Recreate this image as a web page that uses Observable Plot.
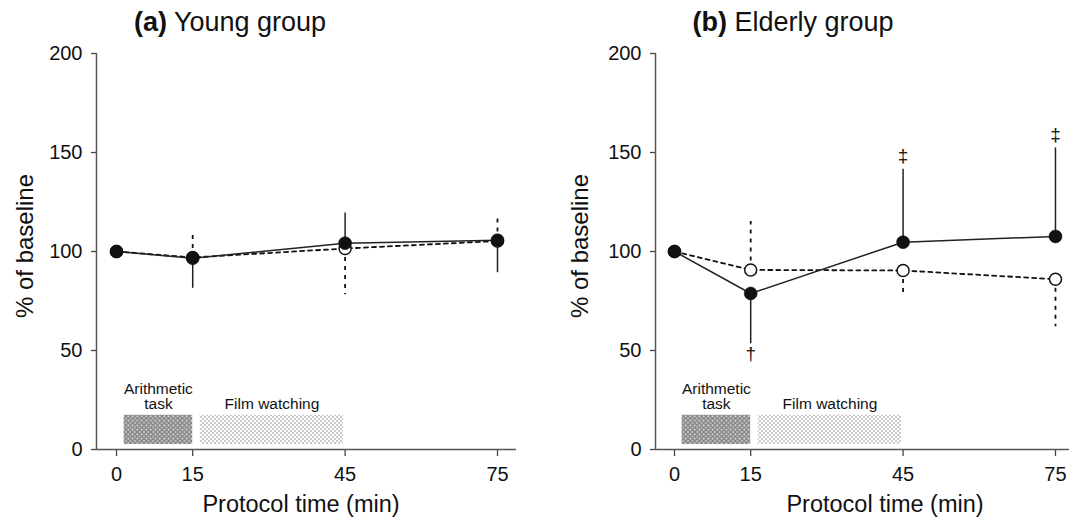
<!DOCTYPE html>
<html>
<head>
<meta charset="utf-8">
<script src="https://cdn.jsdelivr.net/npm/d3@7"></script>
<script src="https://cdn.jsdelivr.net/npm/@observablehq/plot@0.6"></script>
<style>
  html, body { margin: 0; padding: 0; background: #fff; }
  body { font-family: "Liberation Sans", Arial, Helvetica, sans-serif; color: #111; }
  #wrap { position: relative; width: 1070px; height: 526px; overflow: hidden; }
  .panel { position: absolute; top: 0; }
  .txt { position: absolute; white-space: nowrap; line-height: 1; transform: translate(-50%, -50%); }
  .ttl { font-size: 27px; }
  .xl { font-size: 23.5px; }
  .yl { font-size: 24px; transform: translate(-50%, -50%) rotate(-90deg); }
</style>
</head>
<body>
<div id="wrap"></div>
<script>
// ---- data ----
const times = [0, 15, 45, 75];
const xTicks = [0, 15, 45, 75];
const yTicks = [0, 50, 100, 150, 200];

// Young group
const youngActive = [100, 96.6, 104.2, 105.7];
const youngActiveEnd = [null, 81.4, 119.4, 89.3];
const youngControl = [100, 97, 101.5, 105.3];
const youngControlEnd = [null, 109.5, 78.2, 118.5];
const youngMarks = ["", "", "", ""];

// Elderly group
const elderlyActive = [100, 78.8, 104.7, 107.6];
const elderlyActiveEnd = [null, 53.4, 141.6, 152.3];
const elderlyControl = [100, 90.7, 90.4, 86];
const elderlyControlEnd = [null, 115.2, 77.7, 62];
const elderlyMarks = ["", "†", "‡", "‡"];

// Protocol phases
const phaseLabels = ["Arithmetic\ntask", "Film watching"];
const phaseStart = [1.5, 16.5];
const phaseEnd = [15, 44.7];
const phaseLow = [2.5, 2.5];
const phaseHigh = [17.3, 17.3];

const panelTitles = ["(a)", "(b)"];
const panelNames = ["Young group", "Elderly group"];
const xLabel = "Protocol time (min)";
const yLabel = "% of baseline";

// ---- drawing ----
function makePanel(cfg) {
  const rows = times.map((t, i) => ({
    t, a: cfg.active[i], ae: cfg.activeEnd[i], c: cfg.control[i], ce: cfg.controlEnd[i], m: cfg.marks[i]
  }));
  const errA = rows.filter(d => d.ae != null);
  const errC = rows.filter(d => d.ce != null);
  const phases = phaseLabels.map((label, i) => ({
    label, x1: phaseStart[i], x2: phaseEnd[i], xm: (phaseStart[i] + phaseEnd[i]) / 2, y1: phaseLow[i], y2: phaseHigh[i]
  }));
  const below = rows.filter(d => d.m && d.ae < d.a);
  const above = rows.filter(d => d.m && d.ae > d.a);
  const id = cfg.id;

  const svg = Plot.plot({
    width: cfg.width,
    height: 526,
    marginLeft: cfg.marginLeft,
    marginRight: cfg.marginRight,
    marginTop: 53,
    marginBottom: 77,
    x: { domain: [cfg.xMin, cfg.xMax] },
    y: { domain: [0, 200] },
    style: { fontFamily: "'Liberation Sans', Arial, Helvetica, sans-serif", color: "#111", background: "transparent", overflow: "visible" },
    marks: [
      Plot.rect([phases[0]], { x1: "x1", x2: "x2", y1: "y1", y2: "y2", fill: `url(#arith-${id})` }),
      Plot.rect([phases[1]], { x1: "x1", x2: "x2", y1: "y1", y2: "y2", fill: `url(#film-${id})` }),
      Plot.text(phases, { x: "xm", y: "y2", text: "label", lineAnchor: "bottom", lineHeight: 1, dy: -6, fontSize: 15.5, fill: "#111" }),
      Plot.axisX({ ticks: xTicks, tickSize: 7, tickPadding: 10, fontSize: 20, label: null, stroke: "#444", strokeWidth: 1.3 }),
      Plot.axisY({ ticks: yTicks, tickSize: 5, tickPadding: 9, fontSize: 20, label: null, stroke: "#444", strokeWidth: 1.3 }),
      Plot.ruleY([0], { stroke: "#555", strokeWidth: 1.5 }),
      Plot.ruleX([cfg.xMin], { stroke: "#555", strokeWidth: 1.5 }),
      Plot.line(rows, { x: "t", y: "c", stroke: "#111", strokeWidth: 1.8, strokeDasharray: "4,4" }),
      Plot.ruleX(errC, { x: "t", y1: "c", y2: "ce", stroke: "#111", strokeWidth: 1.8, strokeDasharray: "4,5" }),
      Plot.line(rows, { x: "t", y: "a", stroke: "#222", strokeWidth: 1.5 }),
      Plot.ruleX(errA, { x: "t", y1: "a", y2: "ae", stroke: "#222", strokeWidth: 1.5 }),
      Plot.dot(rows, { x: "t", y: "c", r: 6, fill: "white", stroke: "#111", strokeWidth: 1.5 }),
      Plot.dot(rows, { x: "t", y: "a", r: 6.5, fill: "#111", stroke: "#111", strokeWidth: 0.5 }),
      Plot.text(below, { x: "t", y: "ae", text: "m", lineAnchor: "top", dy: 3, fontSize: 19, fill: "#111" }),
      Plot.text(above, { x: "t", y: "ae", text: "m", lineAnchor: "bottom", dy: -7, fontSize: 19, fill: "#111" })
    ]
  });

  d3.select(svg).insert("defs", ":first-child").html(`
    <pattern id="arith-${id}" width="4.5" height="4.5" patternUnits="userSpaceOnUse">
      <rect width="4.5" height="4.5" fill="#b8b8b8"/>
      <circle cx="2.25" cy="2.25" r="1.6" fill="#e6e6e6" stroke="#555" stroke-width="0.9"/>
    </pattern>
    <pattern id="film-${id}" width="4" height="4" patternUnits="userSpaceOnUse">
      <rect width="4" height="4" fill="#ffffff"/>
      <circle cx="1" cy="1" r="0.75" fill="#7a7a7a"/>
      <circle cx="3" cy="3" r="0.75" fill="#7a7a7a"/>
    </pattern>`);
  return svg;
}

const wrap = document.getElementById("wrap");

function addPanel(cfg, left) {
  const div = document.createElement("div");
  div.className = "panel";
  div.style.left = left + "px";
  div.appendChild(makePanel(cfg));
  wrap.appendChild(div);
}

function addText(cls, html, cx, cy) {
  const d = document.createElement("div");
  d.className = "txt " + cls;
  d.innerHTML = html;
  d.style.left = cx + "px";
  d.style.top = cy + "px";
  wrap.appendChild(d);
}

addPanel({ id: "a", active: youngActive, activeEnd: youngActiveEnd, control: youngControl, controlEnd: youngControlEnd,
  marks: youngMarks, width: 535, marginLeft: 96, marginRight: 19, xMin: -3.94, xMax: 78.74 }, 0);
addPanel({ id: "b", active: elderlyActive, activeEnd: elderlyActiveEnd, control: elderlyControl, controlEnd: elderlyControlEnd,
  marks: elderlyMarks, width: 535, marginLeft: 120, marginRight: 1, xMin: -3.74, xMax: 77.76 }, 535);

addText("ttl", `<b>${panelTitles[0]}</b> ${panelNames[0]}`, 230, 22);
addText("ttl", `<b>${panelTitles[1]}</b> ${panelNames[1]}`, 793, 22);
addText("xl", xLabel, 301, 505);
addText("xl", xLabel, 885, 505);
addText("yl", yLabel, 25, 246);
addText("yl", yLabel, 580, 246);
</script>
</body>
</html>
